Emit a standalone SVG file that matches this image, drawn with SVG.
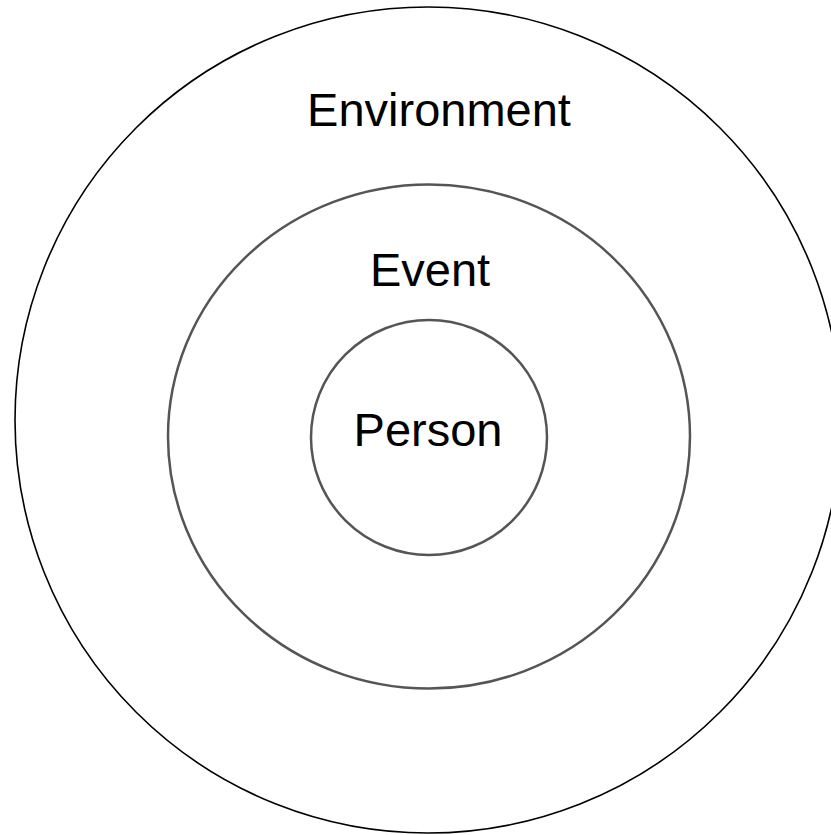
<svg xmlns="http://www.w3.org/2000/svg" width="831" height="835" viewBox="0 0 831 835">
<style>
.lbl{font-family:"Liberation Sans",Arial,sans-serif;font-size:47px;fill:#000;text-anchor:middle}
.ring{fill:none;stroke:#555;stroke-width:2.5}
</style>
<rect width="831" height="835" fill="#fff"/>
<g id="environment">
<ellipse cx="428" cy="420" rx="413" ry="413" fill="none" stroke="#000" stroke-width="1.6"/>
<text class="lbl" x="439" y="126">Environment</text>
</g>
<g id="event">
<ellipse class="ring" cx="429" cy="436.5" rx="261" ry="252"/>
<text class="lbl" x="430" y="286">Event</text>
</g>
<g id="person">
<ellipse class="ring" cx="429" cy="437.5" rx="118" ry="117.5"/>
<text class="lbl" x="428" y="446">Person</text>
</g>
<g id="connectors"></g>
</svg>
